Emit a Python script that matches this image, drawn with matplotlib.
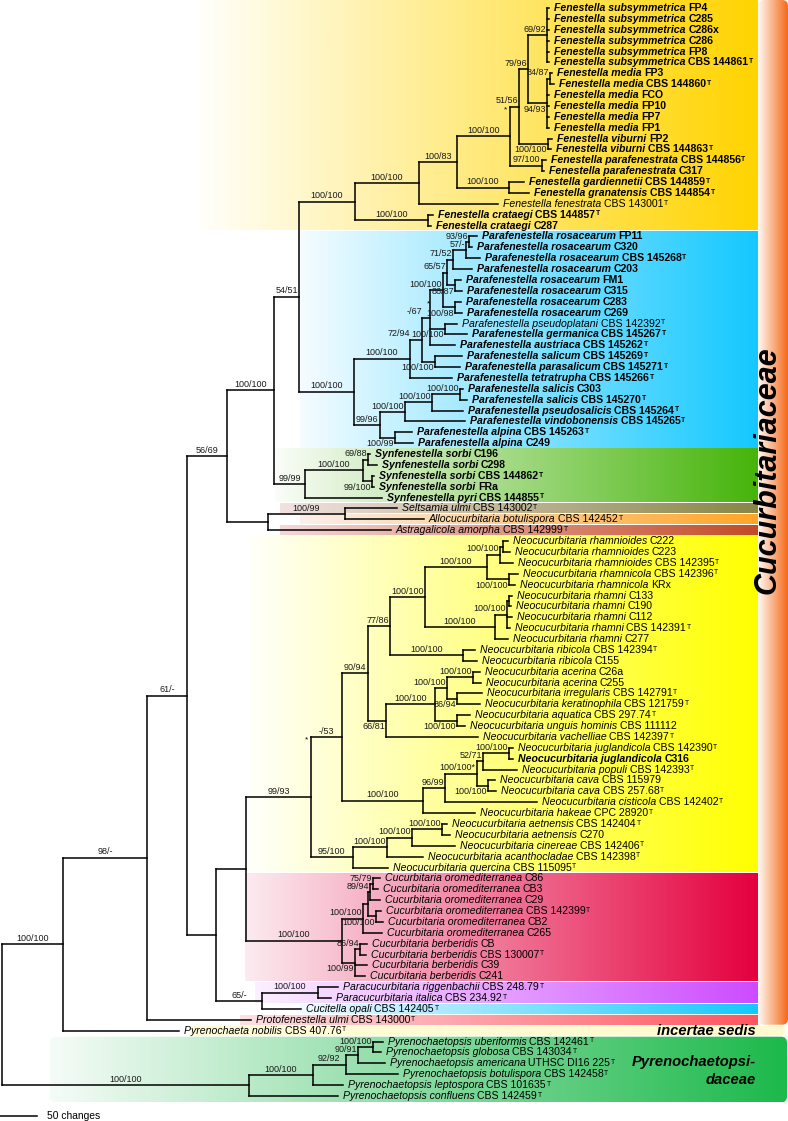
import matplotlib
matplotlib.use("Agg")
import matplotlib.pyplot as plt
import numpy as np
from matplotlib.collections import LineCollection
from matplotlib.patches import FancyBboxPatch

plt.rcParams['font.family'] = ['Liberation Sans', 'DejaVu Sans']

# ---- taxa, in the order they appear from top to bottom ----
species = [
    "Fenestella subsymmetrica", "Fenestella subsymmetrica", "Fenestella subsymmetrica",
    "Fenestella subsymmetrica", "Fenestella subsymmetrica", "Fenestella subsymmetrica",
    "Fenestella media", "Fenestella media", "Fenestella media", "Fenestella media",
    "Fenestella media", "Fenestella media", "Fenestella viburni", "Fenestella viburni",
    "Fenestella parafenestrata", "Fenestella parafenestrata", "Fenestella gardiennetii",
    "Fenestella granatensis", "Fenestella fenestrata", "Fenestella crataegi", "Fenestella crataegi",
    "Parafenestella rosacearum", "Parafenestella rosacearum", "Parafenestella rosacearum",
    "Parafenestella rosacearum", "Parafenestella rosacearum", "Parafenestella rosacearum",
    "Parafenestella rosacearum", "Parafenestella rosacearum", "Parafenestella pseudoplatani",
    "Parafenestella germanica", "Parafenestella austriaca", "Parafenestella salicum",
    "Parafenestella parasalicum", "Parafenestella tetratrupha", "Parafenestella salicis",
    "Parafenestella salicis", "Parafenestella pseudosalicis", "Parafenestella vindobonensis",
    "Parafenestella alpina", "Parafenestella alpina",
    "Synfenestella sorbi", "Synfenestella sorbi", "Synfenestella sorbi", "Synfenestella sorbi",
    "Synfenestella pyri",
    "Seltsamia ulmi", "Allocucurbitaria botulispora", "Astragalicola amorpha",
    "Neocucurbitaria rhamnioides", "Neocucurbitaria rhamnioides", "Neocucurbitaria rhamnioides",
    "Neocucurbitaria rhamnicola", "Neocucurbitaria rhamnicola", "Neocucurbitaria rhamni",
    "Neocucurbitaria rhamni", "Neocucurbitaria rhamni", "Neocucurbitaria rhamni",
    "Neocucurbitaria rhamni", "Neocucurbitaria ribicola", "Neocucurbitaria ribicola",
    "Neocucurbitaria acerina", "Neocucurbitaria acerina", "Neocucurbitaria irregularis",
    "Neocucurbitaria keratinophila", "Neocucurbitaria aquatica", "Neocucurbitaria unguis hominis",
    "Neocucurbitaria vachelliae", "Neocucurbitaria juglandicola", "Neocucurbitaria juglandicola",
    "Neocucurbitaria populi", "Neocucurbitaria cava", "Neocucurbitaria cava",
    "Neocucurbitaria cisticola", "Neocucurbitaria hakeae", "Neocucurbitaria aetnensis",
    "Neocucurbitaria aetnensis", "Neocucurbitaria cinereae", "Neocucurbitaria acanthocladae",
    "Neocucurbitaria quercina",
    "Cucurbitaria oromediterranea", "Cucurbitaria oromediterranea", "Cucurbitaria oromediterranea",
    "Cucurbitaria oromediterranea", "Cucurbitaria oromediterranea", "Cucurbitaria oromediterranea",
    "Cucurbitaria berberidis", "Cucurbitaria berberidis", "Cucurbitaria berberidis",
    "Cucurbitaria berberidis",
    "Paracucurbitaria riggenbachii", "Paracucurbitaria italica", "Cucitella opali",
    "Protofenestella ulmi", "Pyrenochaeta nobilis",
    "Pyrenochaetopsis uberiformis", "Pyrenochaetopsis globosa", "Pyrenochaetopsis americana",
    "Pyrenochaetopsis botulispora", "Pyrenochaetopsis leptospora", "Pyrenochaetopsis confluens",
]
strains = [
    "FP4", "C285", "C286x", "C286", "FP8", "CBS 144861", "FP3", "CBS 144860", "FCO", "FP10",
    "FP7", "FP1", "FP2", "CBS 144863", "CBS 144856", "C317", "CBS 144859", "CBS 144854",
    "CBS 143001", "CBS 144857", "C287",
    "FP11", "C320", "CBS 145268", "C203", "FM1", "C315", "C283", "C269", "CBS 142392",
    "CBS 145267", "CBS 145262", "CBS 145269", "CBS 145271", "CBS 145266", "C303", "CBS 145270",
    "CBS 145264", "CBS 145265", "CBS 145263", "C249",
    "C196", "C298", "CBS 144862", "FRa", "CBS 144855",
    "CBS 143002", "CBS 142452", "CBS 142999",
    "C222", "C223", "CBS 142395", "CBS 142396", "KRx", "C133", "C190", "C112", "CBS 142391",
    "C277", "CBS 142394", "C155", "C26a", "C255", "CBS 142791", "CBS 121759", "CBS 297.74",
    "CBS 111112", "CBS 142397", "CBS 142390", "C316", "CBS 142393", "CBS 115979", "CBS 257.68",
    "CBS 142402", "CPC 28920", "CBS 142404", "C270", "CBS 142406", "CBS 142398", "CBS 115095",
    "C86", "CB3", "C29", "CBS 142399", "CB2", "C265", "CB", "CBS 130007", "C39", "C241",
    "CBS 248.79", "CBS 234.92", "CBS 142405", "CBS 143000", "CBS 407.76",
    "CBS 142461", "CBS 143034", "UTHSC DI16 225", "CBS 142458", "CBS 101635", "CBS 142459",
]
type_strains = [5, 7, 13, 14, 16, 17, 18, 19, 23, 29, 30, 31, 32, 33, 34, 36, 37, 38, 39, 43,
                45, 46, 47, 48, 51, 52, 57, 59, 63, 64, 65, 67, 68, 70, 72, 73, 74, 75, 77, 78,
                79, 83, 87, 90, 91, 92, 93, 94, 95, 96, 97, 98, 99, 100]
new_taxa = list(range(0, 18)) + [19, 20] + list(range(21, 29)) + list(range(30, 46)) + [69]

# ---- tree (leaves = taxon index, lengths in changes) ----
# support suffix "_" = written under the branch, "<" = written left of the branch start
fenestella = ("(((((((0:2.7,1:2.7,2:2.7,3:2.7,4:2.7,5:2.7)69/92:25.7,"
              "((6:2.7,7:5.4)84/87:4,8:2.7,9:2.7,10:2.7,11:2.7)94/93_:25.7)79/96:12.2,"
              "(12:5.4,13:4)100/100_:39.2)*51/56:12.2,"
              "(14:5.4,15:2.7)97/100:43.2)100/100:71.6,"
              "(16:20.3,17:27)100/100:70.2)100/83:51.4,"
              "18:106.7)100/100:86.5,"
              "(19:6.8,20:4)100/100:98.6)100/100:75.7")
parafen_a = ("((((((((21:10.8,22:4)93/96:4,23:18.9)57/-:17.6,24:25.7)71/52:8.1,"
             "(25:8.1,26:9.5)86/87_:10.8)65/57:5.4,"
             "(27:8.1,28:9.5)*100/98_:16.2)100/100:17.6,"
             "(29:16.2,30:29.7)100/100_:20.3,31:33.8)-/67<:10.8,"
             "(32:36.5,33:33.8)100/100_:17.6)72/94<:16.2,34:56.7)100/100:75.6")
parafen_b = ("((((35:4,36:9.5)100/100:37.8,37:41.9)100/100:36.5,38:81)100/100:33.8,"
             "(39:23,40:24.3)100/99_:20.3)99/96:35.1")
synfen = "(((41:2.7,42:12.2)69/88:6.8,(43:2.7,44:2.7)99/100_:12.2)100/100:78.3,45:104)99/99:41.9"
seltsamia_grp = "((46:70.2,47:106.7)100/99:104,48:166):55.4"
neo_rham = ("((((49:6.8,50:9.5):4,51:17.6)100/100:17.6,(52:12.2,53:8.1)100/100_:29.7)100/100:83.7,"
            "(((54:4,55:2.7):2.7,56:6.8,57:4)100/100:16.2,58:17.6)100/100:94.5)100/100:47.3")
neo_ribi = "(59:16.2,60:18.9)100/100:98.6"
neo_acer = ("(((61:9.5,62:10.8)100/100:35.1,(63:33.8,64:31)86/94_:13.5)100/100:16.2,"
            "(65:17.6,66:10.8)100/100_:29.7)100/100:66.2")
neo_jugl = ("(((((68:5.4,69:5.4)100/100:35.1,70:45.9)52/71:8.1,(71:9.5,72:10.8)100/100_:14.9)100/100*:43.2,"
            "73:124.2)96/99:29.7,74:70.2)100/100:109.4")
neo_aetn = "((((75:6.8,76:10.8)100/100:40.5,77:58)100/100:33.8,78:48.6)100/100:45.9,79:47.3)95/100:56.7"
cucurb = ("(((((80:9.5,81:6.8)75/79:4,82:13.5)89/94:2.7,(83:6.8,84:9.5)100/100_:10.8):6.8,"
          "85:25.7)100/100:28.4,((86:9.5,87:8.1)86/94:6.8,88:16.2,89:13.5)100/99_:17.6)100/100:129.6")
paracuc = "((90:27,91:17.6)100/100:75.6,92:52.7)65/-:62.1"
pyrenochaetopsis = ("(((((95:13.5,96:10.8)100/100:20.3,97:36.5)90/91:16.2,98:70.2)92/92:44.6,"
                    "99:40.5)100/100:86.5,100:120.2)100/100:333.5")

neocucurbitaria = (f"(((({neo_rham},{neo_ribi})77/86:29.7,({neo_acer},67:124.2)66/81_:24.3)90/94:35.1,"
                   f"{neo_jugl})*-/53:41.9,{neo_aetn})99/93:87.8")
upper = f"((({fenestella},({parafen_a},{parafen_b})100/100:74.3)54/51:33.8,{synfen})100/100:63.5,{seltsamia_grp})56/69:54"
lower = f"(({neocucurbitaria},{cucurb}):40.5,{paracuc}):39.2"
tree_newick = f"(((({upper},{lower})61/-:54,93:140.4)98/-:113.5,94:156.6)100/100:82.4,{pyrenochaetopsis});"

# ---- coloured clade bands: (first row, last row), left colour, right colour, start/end px ----
band_rows = [(0, 20), (21, 40), (41, 45), (46, 46), (47, 47), (48, 48), (49, 79), (80, 89),
             (90, 91), (92, 92), (93, 93), (94, 94), (95, 100)]
band_right = [(255, 212, 0), (20, 200, 255), (70, 180, 10), (135, 135, 70), (255, 165, 40),
              (195, 75, 40), (255, 255, 0), (228, 0, 62), (205, 75, 255), (20, 200, 250),
              (255, 85, 95), (255, 250, 205), (28, 185, 75)]
band_left = [(255, 255, 250), (245, 252, 255), (250, 253, 248), (242, 225, 225), (250, 240, 235),
             (245, 215, 215), (255, 255, 250), (252, 235, 240), (252, 240, 255), (240, 250, 255),
             (252, 225, 228), (255, 252, 215), (245, 252, 247)]
band_start_px = [200, 300, 275, 280, 300, 280, 250, 245, 255, 300, 240, 190, 50]
band_end_px = [757, 757, 757, 757, 757, 757, 757, 757, 757, 757, 757, 785, 787]


def parse_newick(s):
    s = "".join(s.split())
    pos = 0

    def node():
        nonlocal pos
        n = {"children": [], "name": "", "length": 0.0}
        if s[pos] == "(":
            pos += 1
            while True:
                n["children"].append(node())
                if s[pos] == ",":
                    pos += 1
                    continue
                pos += 1
                break
        start = pos
        while s[pos] not in ":,);":
            pos += 1
        n["name"] = s[start:pos]
        if s[pos] == ":":
            pos += 1
            start = pos
            while s[pos] not in ",);":
                pos += 1
            n["length"] = float(s[start:pos])
        return n

    return node()


def layout(n, x0):
    n["x"] = x0 + n["length"]
    if n["children"]:
        for c in n["children"]:
            layout(c, n["x"])
        n["y"] = (n["children"][0]["y"] + n["children"][-1]["y"]) / 2
    else:
        n["y"] = int(n["name"])


def px_x(p):
    return (p - 2.0) * 50 / 37


def px_y(p):
    return (p - 8.0) / 10.88


PX = 50 / 37       # x data units per pixel
PY = 1 / 10.88     # y data units per pixel

root = parse_newick(tree_newick)
layout(root, 0.0)

fig = plt.figure(figsize=(7.88, 11.21), dpi=100)
ax = fig.add_axes([0, 0, 1, 1])
ax.set_xlim(px_x(0), px_x(788))
ax.set_ylim(px_y(1121), px_y(0))
renderer = fig.canvas.get_renderer()


def gradient_box(x0, x1, ytop, ybot, cl, cr, rounded=False):
    g = np.linspace(0, 1, 256)[:, None]
    cols = (np.array(cl) * (1 - g) + np.array(cr) * g) / 255.0
    im = ax.imshow(cols[None, :, :], extent=(x0, x1, ybot, ytop),
                   aspect="auto", interpolation="bilinear", zorder=0)
    if rounded:
        box = FancyBboxPatch((x0, ytop), x1 - x0, ybot - ytop,
                             boxstyle=f"round,pad=0,rounding_size={6 * PX}",
                             mutation_aspect=PY / PX,
                             facecolor="none", edgecolor="none")
        ax.add_patch(box)
        im.set_clip_path(box)


# bands
for (r0, r1), cl, cr, sp, ep in zip(band_rows, band_left, band_right, band_start_px, band_end_px):
    top = r0 - 0.5 if r0 > 0 else px_y(0)
    bot = r1 + 0.5 if r1 < 100 else px_y(1103)
    gradient_box(px_x(sp), px_x(ep), top + 0.05, bot - 0.05, cl, cr, rounded=(ep > 760))

# family bar on the right
gradient_box(px_x(758), px_x(788), px_y(0), 93.45, (255, 250, 245), (245, 105, 25), rounded=True)

# branches and labels
segs = []


def draw(n):
    if not n["children"]:
        i = n["y"]
        bold = "bold" if i in new_taxa else "normal"
        t1 = ax.text(n["x"] + 5 * PX, i, species[i], style="italic", weight=bold,
                     fontsize=7.55, va="center", ha="left", zorder=3)
        t2 = ax.annotate(strains[i], xy=(1, 0), xycoords=t1, xytext=(2.0, 0),
                         textcoords="offset points", va="bottom", ha="left",
                         fontsize=7.55, weight=bold, zorder=3)
        if i in type_strains:
            ax.annotate("T", xy=(1, 1), xycoords=t2, xytext=(0.4, -0.5),
                        textcoords="offset points", va="top", ha="left",
                        fontsize=4.9, weight=bold, zorder=3)
        return
    ys = [c["y"] for c in n["children"]]
    segs.append([(n["x"], min(ys)), (n["x"], max(ys))])
    for c in n["children"]:
        segs.append([(n["x"], c["y"]), (c["x"], c["y"])])
        lab = c["name"] if c["children"] else ""
        if lab:
            star = lab.startswith("*")
            lab = lab.lstrip("*")
            at_start = lab.endswith("<")
            lab = lab.rstrip("<")
            below = lab.endswith("_")
            lab = lab.rstrip("_")
            yy = c["y"] + 1.3 * PY if below else c["y"] - 1.3 * PY
            t = ax.text(0, yy, lab, fontsize=6.5, color="#1a1a1a",
                        va="top" if below else "bottom", zorder=3)
            w = t.get_window_extent(renderer).width
            blen = (c["x"] - n["x"]) / PX
            if at_start:
                t.set_x(n["x"])
                t.set_ha("right")
                left = n["x"] - w * PX
            elif blen >= w + 3:
                t.set_x((n["x"] + c["x"]) / 2)
                t.set_ha("center")
                left = (n["x"] + c["x"]) / 2 - w * PX / 2
            else:
                t.set_x(c["x"] - PX)
                t.set_ha("right")
                left = c["x"] - PX - w * PX
            if star:
                if below:
                    sx, sy = left + 2.5 * PX, c["y"] - 3.0 * PY
                else:
                    sx, sy = n["x"] - 4 * PX, c["y"] + 3.0 * PY
                ax.text(sx, sy, "*", fontsize=6, ha="center", va="center", zorder=3)
        draw(c)


draw(root)
ax.add_collection(LineCollection(segs, colors="black", linewidths=1.1,
                                 capstyle="projecting", zorder=2))

# group names
ax.text(px_x(768), px_y(470), "Cucurbitariaceae", rotation=90, ha="center", va="center",
        fontsize=22, weight="bold", style="italic", zorder=3)
ax.text(px_x(756), 94, "incertae sedis", ha="right", va="center",
        fontsize=10.6, weight="bold", style="italic", zorder=3)
ax.text(px_x(756), px_y(1062), "Pyrenochaetopsi-", ha="right", va="center",
        fontsize=10.6, weight="bold", style="italic", zorder=3)
ax.text(px_x(756), px_y(1080), "daceae", ha="right", va="center",
        fontsize=10.6, weight="bold", style="italic", zorder=3)

# scale bar
ax.plot([px_x(0), px_x(37)], [px_y(1116)] * 2, color="black", lw=1.1)
ax.text(px_x(47), px_y(1116), "50 changes", fontsize=7.4, va="center", ha="left")

ax.set_xlim(px_x(0), px_x(788))
ax.set_ylim(px_y(1121), px_y(0))
ax.axis("off")

fig.savefig("out.png", dpi=100)
